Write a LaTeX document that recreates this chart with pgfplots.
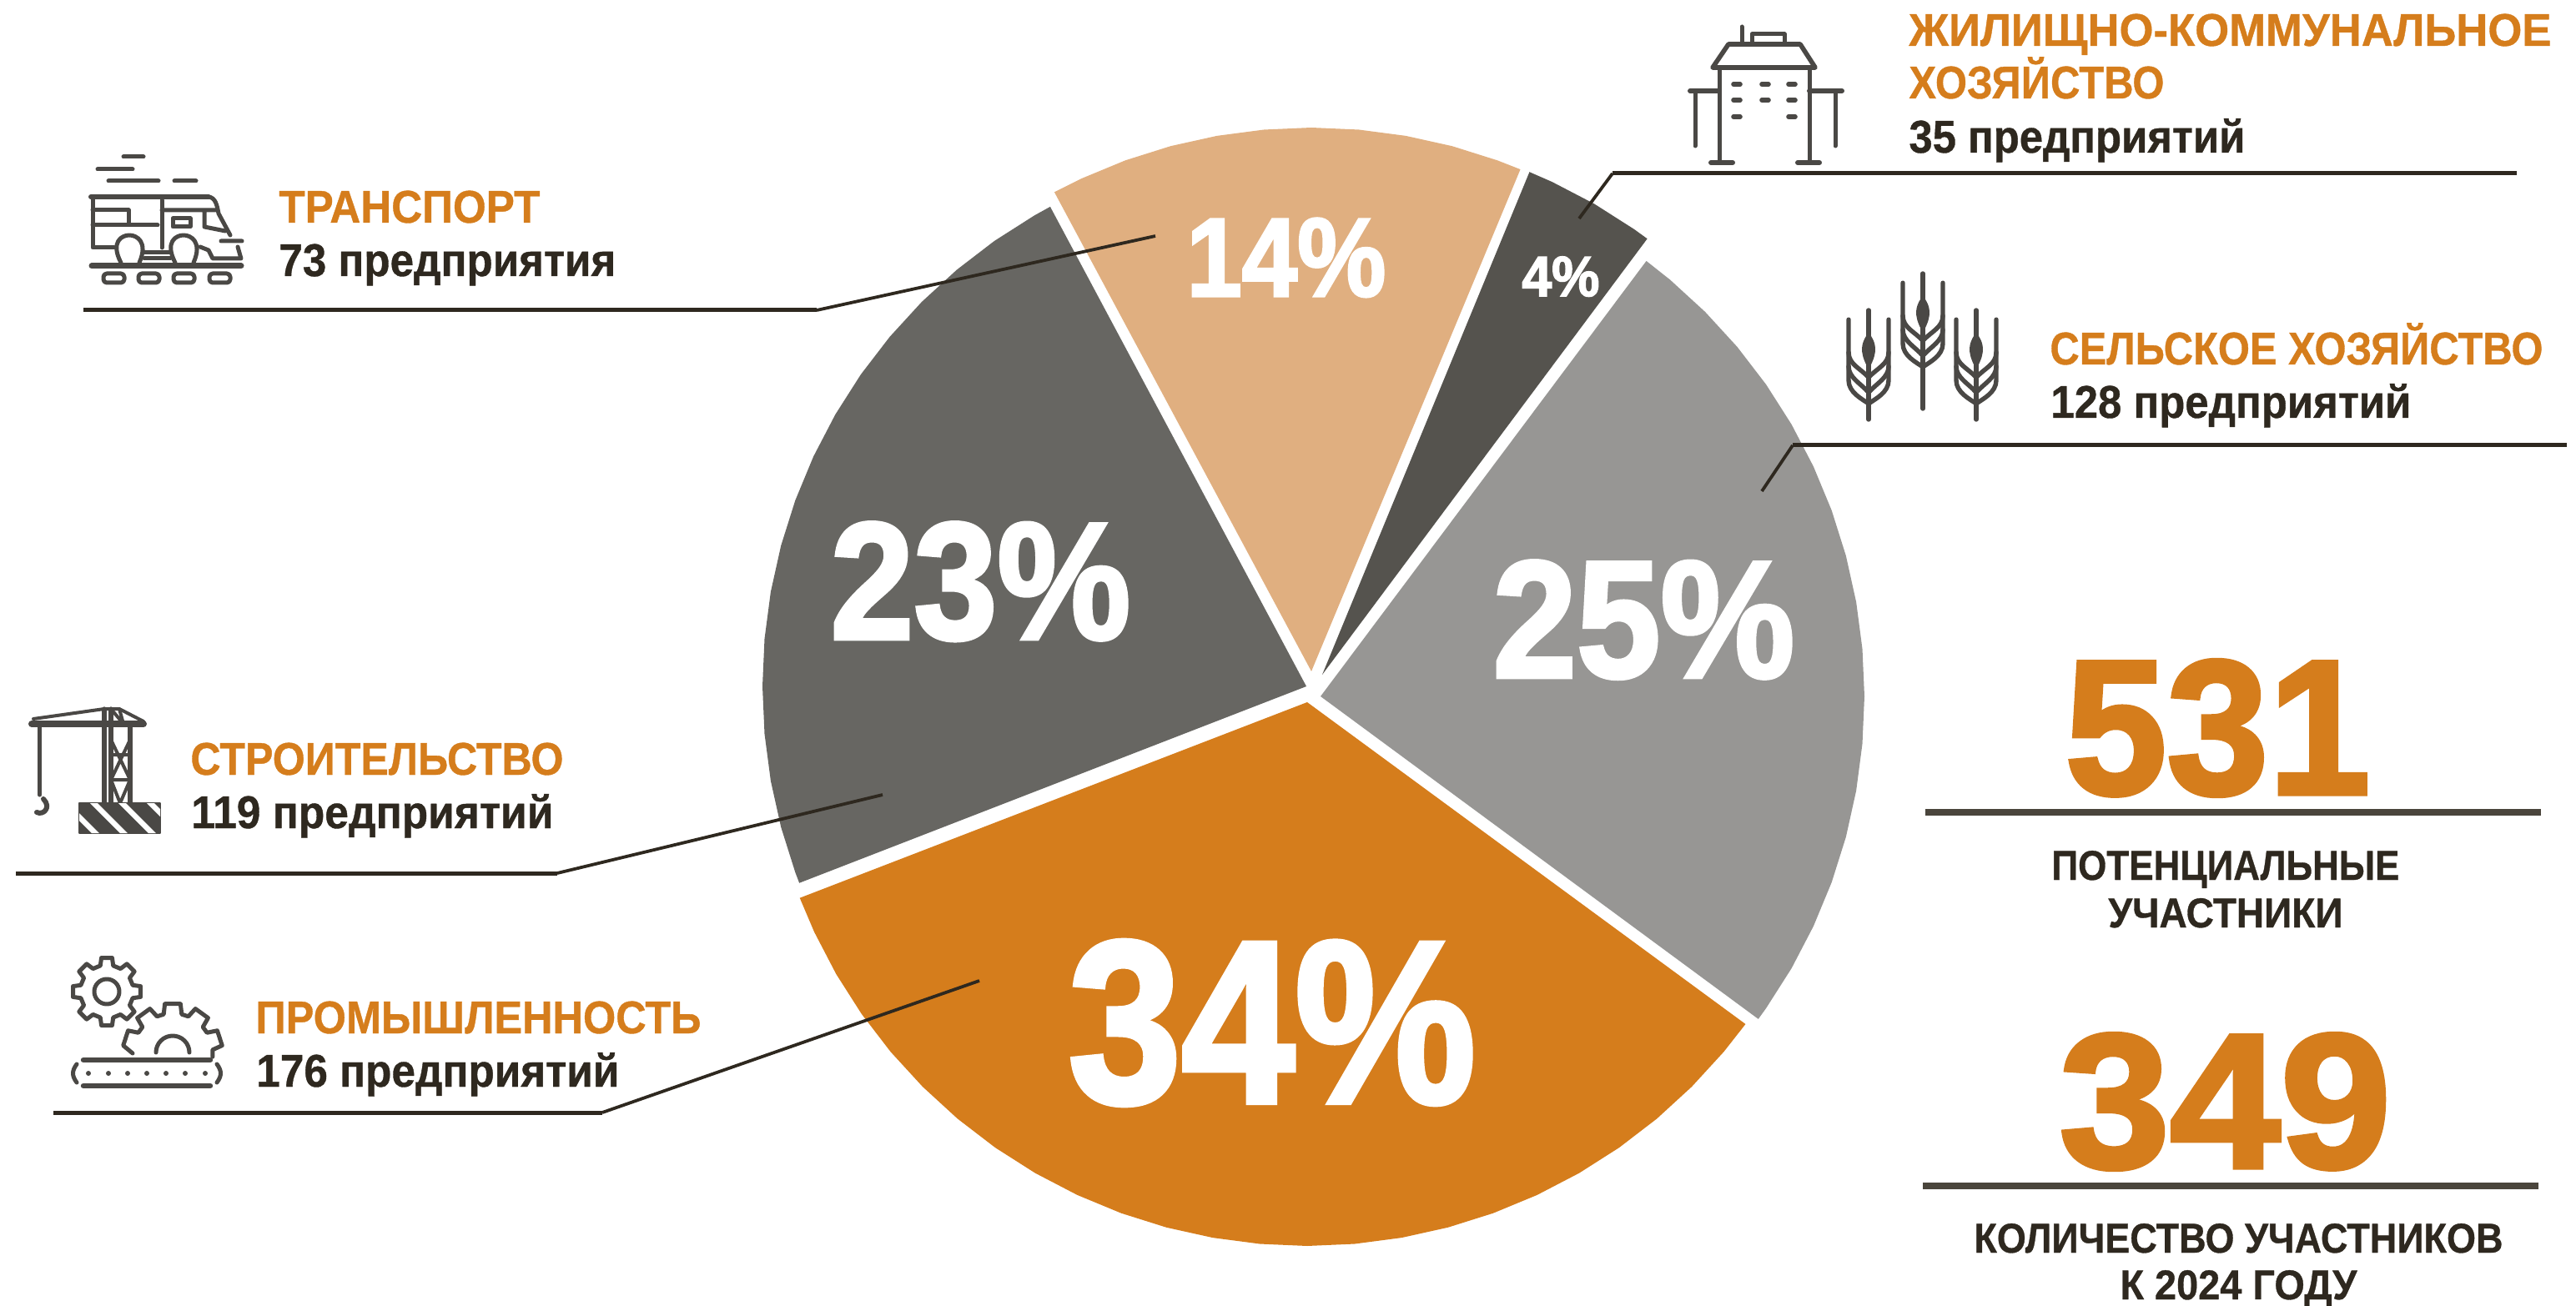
\documentclass[border=0pt]{standalone}
\usepackage{fontspec}
\setmainfont{Liberation Sans}
\newfontfamily\blk[BoldFeatures={FakeBold=2.3}]{Liberation Sans}
\newfontfamily\med[BoldFeatures={FakeBold=0.7}]{Liberation Sans}
\usepackage{graphicx}
\usepackage{pgfplots}
\pgfplotsset{compat=1.18}
\definecolor{cOr}{HTML}{D57D1C}
\definecolor{cTan}{HTML}{E0AF80}
\definecolor{cDk}{HTML}{676662}
\definecolor{cDkk}{HTML}{55534E}
\definecolor{cGr}{HTML}{979694}
\definecolor{cTx}{HTML}{2E281F}
\definecolor{cIc}{HTML}{4A4845}
\definecolor{cRule}{HTML}{4A453C}
% x(px) ybase(px) width(pt) size(pt) colour font text
\newcommand\tx[7]{\node[anchor=base west,inner sep=0pt,text=#5] at (#1,#2)
  {\resizebox{#3pt}{\height}{\fontsize{#4pt}{#4pt}\selectfont #6\bfseries #7}};}
\newcommand\wheat[3]{%
\begin{scope}[shift={(#1,#2)},line width=2.7pt,draw=cIc,line cap=round]
\draw (0,0)--(0,#3);
\begin{scope}[yscale=1.12]
\draw (-24,10)--(-24,75) .. controls (-24,88) and (-8,95) .. (0,100);
\draw (24,10)--(24,75) .. controls (24,88) and (8,95) .. (0,100);
\draw (-24,45) .. controls (-24,58) and (-10,62) .. (0,72);
\draw (24,45) .. controls (24,58) and (10,62) .. (0,72);
\draw (-24,60) .. controls (-24,72) and (-10,78) .. (0,88);
\draw (24,60) .. controls (24,72) and (10,78) .. (0,88);
\draw (0,28) .. controls (6,36) and (8,44) .. (0,58) .. controls (-8,44) and (-6,36) .. (0,28);
\end{scope}
\end{scope}}
\begin{document}
\begin{tikzpicture}
\useasboundingbox (0,0) rectangle (1544pt,-783pt);
\begin{axis}[at={(0,0)},anchor=north west,scale only axis,width=1544pt,height=783pt,
  xmin=-1575,xmax=1513,ymin=-739,ymax=827,hide axis,clip=false]
% slices: (angle, radius) around each slice's own apex; shares 34, 25, 4, 14, 23 %
\addplot[fill=cOr,draw=none,data cs=polar,xshift=-4pt,yshift=-7.5pt] coordinates {(0,0)(201.1,652)(205,652)(210,652)(215,652)(220,652)(225,652)(230,652)(235,652)(240,652)(245,652)(250,652)(255,652)(260,652)(265,652)(270,652)(275,652)(280,652)(285,652)(290,652)(295,652)(300,652)(305,652)(310,652)(315,652)(320,652)(323.7,652)};
\addplot[fill=cGr,draw=none,data cs=polar,xshift=4pt,yshift=-4pt] coordinates {(0,0)(-36.4,652)(-35,652)(-30,652)(-25,652)(-20,652)(-15,652)(-10,652)(-5,652)(0,652)(5,652)(10,652)(15,652)(20,652)(25,652)(30,652)(35,652)(40,652)(45,652)(50,652)(53.2,652)};
\addplot[fill=cDkk,draw=none,data cs=polar,xshift=5pt,yshift=9pt] coordinates {(0,0)(53.3,652)(55,652)(60,652)(65,652)(67.6,652)};
\addplot[fill=cTan,draw=none,data cs=polar,xshift=-1.5pt,yshift=11pt] coordinates {(0,0)(67.4,652)(70,652)(75,652)(80,652)(85,652)(90,652)(95,652)(100,652)(105,652)(110,652)(115,652)(118.2,652)};
\addplot[fill=cDk,draw=none,data cs=polar,xshift=-4.5pt,yshift=2pt] coordinates {(0,0)(118.1,652)(120,652)(125,652)(130,652)(135,652)(140,652)(145,652)(150,652)(155,652)(160,652)(165,652)(170,652)(175,652)(180,652)(185,652)(190,652)(195,652)(200,652)(201.2,652)};
% leaders
\addplot[cTx,line width=2.5pt,no marks] coordinates {(-1475,455)(-596,455)};
\addplot[cTx,line width=1.9pt,no marks] coordinates {(-596,455)(-190,544)};
\addplot[cTx,line width=2.5pt,no marks] coordinates {(-1556,-220)(-907,-220)};
\addplot[cTx,line width=1.9pt,no marks] coordinates {(-907,-220)(-517,-126)};
\addplot[cTx,line width=2.5pt,no marks] coordinates {(-1511,-507)(-853,-507)};
\addplot[cTx,line width=1.9pt,no marks] coordinates {(-853,-507)(-401,-349)};
\addplot[cTx,line width=2.5pt,no marks] coordinates {(1442,619)(358,619)};
\addplot[cTx,line width=1.9pt,no marks] coordinates {(358,619)(318,565)};
\addplot[cTx,line width=2.5pt,no marks] coordinates {(1502,293)(574,293)};
\addplot[cTx,line width=1.9pt,no marks] coordinates {(574,293)(537,238)};
\addplot[cRule,line width=4pt,no marks] coordinates {(733,-147)(1471,-147)};
\addplot[cRule,line width=4pt,no marks] coordinates {(730,-595)(1468,-595)};
\end{axis}
\begin{scope}[x=.5pt,y=-.5pt]
% pie labels
\tx{1422}{355}{119.5}{67}{white}{\blk}{14\%}
\tx{1824}{355}{46.5}{34}{white}{\blk}{4\%}
\tx{1789}{812}{181}{100}{white}{\blk}{25\%}
\tx{995}{766}{180}{100}{white}{\blk}{23\%}
\tx{1280}{1322}{244.5}{139}{white}{\blk}{34\%}
% category labels
\tx{334}{267}{156.5}{27.5}{cOr}{\med}{ТРАНСПОРТ}
\tx{334}{331}{202}{27.5}{cTx}{\med}{73 предприятия}
\tx{228}{929}{223.5}{27.5}{cOr}{\med}{СТРОИТЕЛЬСТВО}
\tx{229}{993}{217}{27.5}{cTx}{\med}{119 предприятий}
\tx{306}{1239}{267}{27.5}{cOr}{\med}{ПРОМЫШЛЕННОСТЬ}
\tx{307}{1303}{217.5}{27.5}{cTx}{\med}{176 предприятий}
\tx{2288}{55}{385}{27.5}{cOr}{\med}{ЖИЛИЩНО-КОММУНАЛЬНОЕ}
\tx{2288}{118}{153}{27.5}{cOr}{\med}{ХОЗЯЙСТВО}
\tx{2288}{183}{201.5}{27.5}{cTx}{\med}{35 предприятий}
\tx{2457}{437}{295.5}{27.5}{cOr}{\med}{СЕЛЬСКОЕ ХОЗЯЙСТВО}
\tx{2458}{501}{216}{27.5}{cTx}{\med}{128 предприятий}
% totals
\tx{2475}{952}{183}{115}{cOr}{\blk}{531}
\tx{2468}{1400}{199}{115}{cOr}{\blk}{349}
\tx{2459}{1055}{208.5}{25}{cTx}{\med}{ПОТЕНЦИАЛЬНЫЕ}
\tx{2527}{1112}{140.5}{25}{cTx}{\med}{УЧАСТНИКИ}
\tx{2366}{1502}{317}{25}{cTx}{\med}{КОЛИЧЕСТВО УЧАСТНИКОВ}
\tx{2541}{1558}{142}{25}{cTx}{\med}{К 2024 ГОДУ}
% truck icon
\begin{scope}[draw=cIc,line width=2.5pt,line cap=round,line join=round]
\draw (148,188)--(172,188) (117,203)--(159,203) (130,217)--(190,217) (209,217)--(235,217);
\draw[line width=3pt] (109,236)--(250,236);
\draw (250,236) .. controls (258,237) and (260,245) .. (262,256) -- (276,282);
\draw (111,236)--(111,297)--(137,297);
\draw (194,240)--(194,297);
\draw (111,252)--(154,252)--(154,269) (111,270)--(189,270);
\draw (194,252)--(258,252) (245,252)--(245,272)--(270,277);
\draw (207,262) rectangle (228,272);
\draw (145,315) .. controls (132,290) and (146,282) .. (155,282) .. controls (164,282) and (178,290) .. (167,315);
\draw (210,315) .. controls (197,290) and (211,282) .. (220,282) .. controls (229,282) and (243,290) .. (232,315);
\draw (173,303)--(204,303) (173,310)--(204,310);
\draw (265,289)--(290,289) (240,296)--(250,300)--(255,310)--(289,310)--(285,296);
\draw[line width=3.5pt] (110,319)--(289,319);
\foreach \a in {124,166,208,251} \draw[rounded corners=2pt] (\a,328) rectangle (\a+25,339);
\end{scope}
% crane icon
\begin{scope}[draw=cIc,line width=2pt,line cap=round,line join=round]
\draw[line width=4pt] (38,868)--(172,868);
\draw (40,862)--(125,850)--(143,850)--(172,865);
\draw[line width=2.6pt] (125,850)--(125,963) (156,868)--(156,963) (133,850)--(133,963);
\draw (133,850)--(148,868)--(143,850);
\draw (133,887)--(156,935) (156,887)--(133,935) (133,905)--(156,905) (133,935)--(156,935)
  (133,935)--(144,963)--(156,935);
\draw[line width=2.6pt] (47.5,868)--(47.5,953);
\draw[line width=3pt] (52,958) .. controls (62,968) and (52,978) .. (44,974);
\draw[line width=1pt] (95,963) rectangle (192,999);
\begin{scope}
\clip (95,963) rectangle (192,999);
\fill[cIc] (95,963) rectangle (192,999);
\foreach \a in {74,108,142,176} \fill[white] (\a,963)--(\a+9,963)--(\a+45,999)--(\a+36,999)--cycle;
\end{scope}
\end{scope}
% gears icon
\begin{scope}[draw=cIc,line width=2.5pt,line cap=round,line join=round]
\draw[shift={(128,1189)}] (-14:32) \foreach \a in {0,45,...,315}{ -- (\a-9:41) -- (\a+9:41) -- (\a+14:32) -- (\a+31:32)} -- cycle;
\draw (128,1189) circle (15);
\draw[shift={(207,1263)}] (-180:48) \foreach \a in {-162,-126,-90,-54,-18}{ -- (\a-9:60) -- (\a+9:60) -- (\a+13:48) -- (\a+23:48)};
\draw (187,1262) arc (180:360:20);
\draw[line width=3.2pt] (100,1271)--(252,1271) (100,1302)--(252,1302);
\draw (92,1276) .. controls (86,1284) and (86,1290) .. (92,1298) (260,1276) .. controls (266,1284) and (266,1290) .. (260,1298);
\foreach \a in {106,130,153,176,199,222,246} \fill[cIc] (\a,1287) circle (3);
\end{scope}
% building icon
\begin{scope}[draw=cIc,line width=2.5pt,line cap=round,line join=round]
\draw (2088,32)--(2088,52) (2100,52)--(2100,41)--(2139,41)--(2139,52);
\draw[line width=2.8pt] (2072,53)--(2158,53)--(2176,81)--(2053,81)--cycle;
\draw (2061,81)--(2061,195) (2169,81)--(2169,195);
\draw[line width=3pt] (2051,195)--(2077,195) (2155,195)--(2181,195);
\draw[line width=3pt] (2026,109)--(2061,109) (2169,109)--(2208,109);
\draw (2032,109)--(2032,175) (2200,109)--(2200,175);
\foreach \a/\b in {2082/101,2116/101,2148/101,2082/120,2116/120,2148/120,2082/140,2148/140}
  \draw[line width=2.8pt] (\a-4,\b)--(\a+4,\b);
\end{scope}
% wheat icon
\wheat{2240}{372}{131}
\wheat{2305}{328}{162}
\wheat{2369}{372}{131}
\end{scope}
\end{tikzpicture}
\end{document}
